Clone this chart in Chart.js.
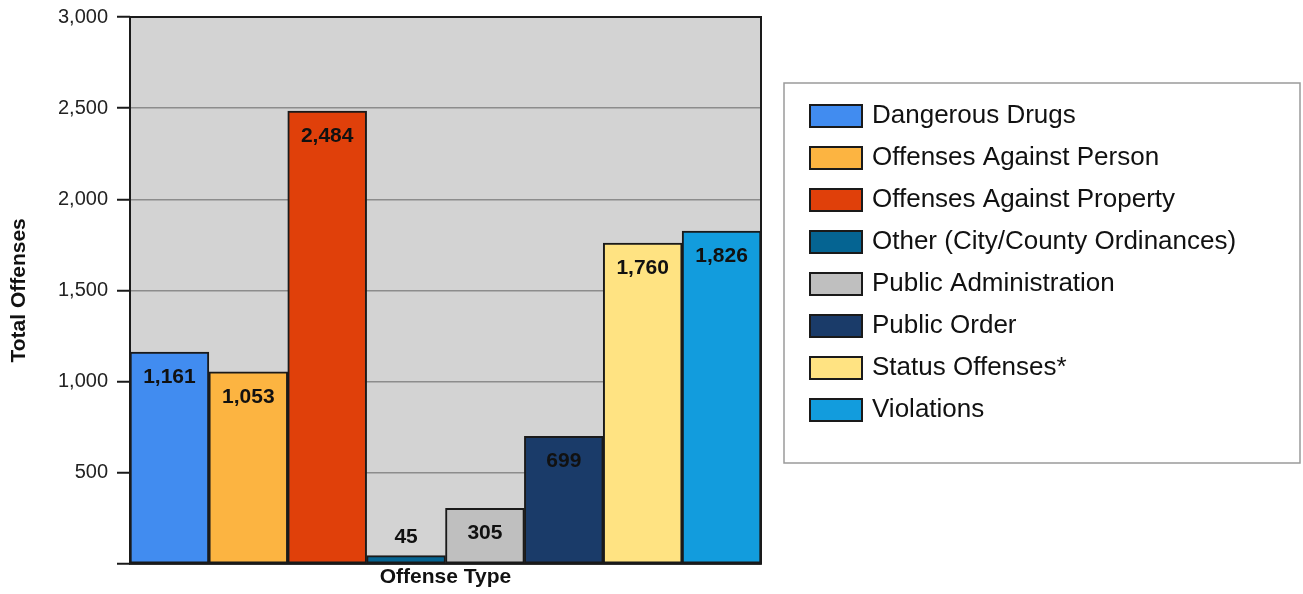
<!DOCTYPE html>
<html>
<head>
<meta charset="utf-8">
<script src="https://cdn.jsdelivr.net/npm/chart.js@4"></script>
<style>
  html, body { margin: 0; padding: 0; background: #ffffff; }
  #wrap { position: relative; width: 1303px; height: 594px; }
</style>
</head>
<body>
<div id="wrap"><canvas id="c"></canvas></div>
<script>
const categories = ['Offense Type'];
const seriesNames = [
  'Dangerous Drugs',
  'Offenses Against Person',
  'Offenses Against Property',
  'Other (City/County Ordinances)',
  'Public Administration',
  'Public Order',
  'Status Offenses*',
  'Violations'
];
const seriesValues = [1161, 1053, 2484, 45, 305, 699, 1760, 1826];
const seriesColors = ['#418CF0', '#FCB441', '#E0400A', '#056492', '#BFBFBF', '#1A3B69', '#FFE382', '#129CDD'];
const yTitle = 'Total Offenses';
const xTitle = 'Offense Type';
const yMin = 0, yMax = 3000, yStep = 500;

const FONT = '"Liberation Sans", Arial, sans-serif';

const datasets = seriesNames.map((name, i) => ({
  label: name,
  data: [seriesValues[i]],
  backgroundColor: seriesColors[i],
  borderColor: '#1a1a1a',
  borderWidth: 2,
  borderSkipped: false,
  categoryPercentage: 1.0,
  barPercentage: 1.0
}));

const bgPlugin = {
  id: 'plotBg',
  beforeDraw(chart) {
    const { ctx, chartArea: a } = chart;
    ctx.save();
    ctx.fillStyle = '#d3d3d3';
    ctx.fillRect(a.left, a.top, a.right - a.left, a.bottom - a.top);
    ctx.restore();
  }
};

const framePlugin = {
  id: 'frameAndLabels',
  afterDatasetsDraw(chart) {
    const { ctx, chartArea: a } = chart;
    ctx.save();
    ctx.strokeStyle = '#1a1a1a';
    ctx.lineWidth = 2;
    ctx.strokeRect(a.left, a.top, a.right - a.left, a.bottom - a.top);
    // value labels
    ctx.font = 'bold 21px ' + FONT;
    ctx.fillStyle = '#111111';
    ctx.textAlign = 'center';
    ctx.textBaseline = 'middle';
    chart.data.datasets.forEach((ds, i) => {
      const meta = chart.getDatasetMeta(i);
      meta.data.forEach((bar, j) => {
        const v = ds.data[j];
        const h = bar.base - bar.y;
        const y = h > 45 ? bar.y + 25 : bar.y - 18;
        ctx.fillText(v.toLocaleString('en-US'), bar.x, y);
      });
    });
    ctx.restore();
  }
};

const legendPlugin = {
  id: 'boxLegend',
  afterDraw(chart) {
    const { ctx } = chart;
    const bx = 784, by = 83, bw = 516, bh = 380;
    ctx.save();
    ctx.fillStyle = '#ffffff';
    ctx.fillRect(bx, by, bw, bh);
    ctx.strokeStyle = '#9a9a9a';
    ctx.lineWidth = 1.5;
    ctx.strokeRect(bx, by, bw, bh);
    ctx.font = '26px ' + FONT;
    ctx.textBaseline = 'middle';
    ctx.textAlign = 'left';
    chart.data.datasets.forEach((ds, i) => {
      const cy = 116 + i * 42;
      ctx.fillStyle = ds.backgroundColor;
      ctx.fillRect(810, cy - 11, 52, 22);
      ctx.strokeStyle = '#1a1a1a';
      ctx.lineWidth = 2;
      ctx.strokeRect(810, cy - 11, 52, 22);
      ctx.fillStyle = '#111111';
      ctx.fillText(ds.label, 872, cy);
    });
    ctx.restore();
  }
};

new Chart(document.getElementById('c'), {
  type: 'bar',
  data: { labels: categories, datasets },
  options: {
    responsive: true,
    maintainAspectRatio: false,
    animation: false,
    layout: { padding: { top: 17, right: 542, left: 0, bottom: 0 } },
    plugins: {
      legend: { display: false },
      tooltip: { enabled: false }
    },
    scales: {
      x: {
        type: 'category',
        grid: { display: false, drawTicks: false, tickLength: 0 },
        border: { display: false },
        ticks: { display: false },
        title: {
          display: true,
          text: xTitle,
          color: '#111111',
          font: { family: FONT, size: 21, weight: 'bold' },
          padding: { top: 1, bottom: 4 }
        }
      },
      y: {
        min: yMin,
        max: yMax,
        afterFit(scale) { scale.width = 130; },
        ticks: {
          stepSize: yStep,
          color: '#222222',
          padding: 9,
          font: { family: FONT, size: 20, lineHeight: 0.8 },
          callback: (v) => v === 0 ? '' : Number(v).toLocaleString('en-US')
        },
        grid: {
          drawOnChartArea: true,
          color: (c) => (c.tick && (c.tick.value === 0 || c.tick.value === yMax)) ? '#1a1a1a' : '#8c8c8c',
          lineWidth: 1.5,
          tickColor: '#1a1a1a',
          tickWidth: 2,
          tickLength: 13
        },
        border: { display: false },
        title: {
          display: true,
          text: yTitle,
          color: '#111111',
          font: { family: FONT, size: 21, weight: 'bold' },
          padding: { top: 7, bottom: 0 }
        }
      }
    }
  },
  plugins: [bgPlugin, framePlugin, legendPlugin]
});
</script>
</body>
</html>
